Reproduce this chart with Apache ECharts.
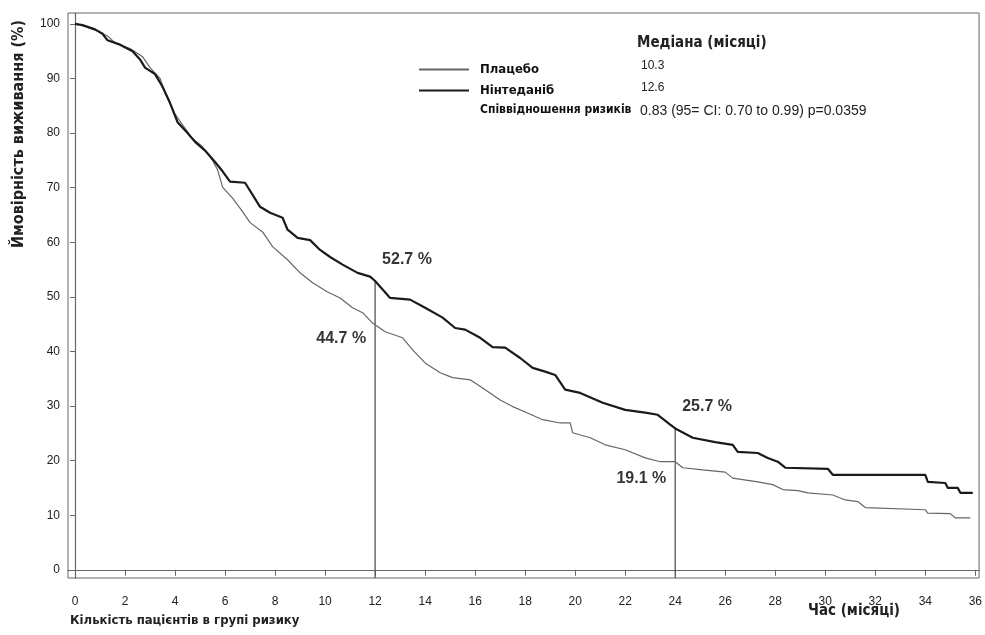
<!DOCTYPE html>
<html>
<head>
<meta charset="utf-8">
<script src="https://cdn.jsdelivr.net/npm/echarts@6/dist/echarts.min.js"></script>
<style>html,body{margin:0;padding:0;background:#fff}#c{width:985px;height:635px}</style>
</head>
<body>
<div id="c"></div>
<script>
// ---- data ----
const xTicks = [0,2,4,6,8,10,12,14,16,18,20,22,24,26,28,30,32,34,36];
const yTicks = [0,10,20,30,40,50,60,70,80,90,100];

const placebo = [
 [0,100],[0.4,99.5],[0.9,98.7],[1.3,97.8],[1.6,96.5],[2.2,95.5],[2.7,94.0],[3.0,92.0],[3.4,90.0],[3.6,87.5],
 [4.0,83.5],[4.3,81.5],[4.7,79.0],[5.1,77.5],[5.5,75.0],[5.7,73.3],[5.9,70.1],[6.3,68.1],[6.7,65.6],[7.0,63.6],
 [7.5,61.9],[7.9,59.2],[8.5,56.8],[9.0,54.4],[9.5,52.6],[10.1,50.9],[10.6,49.8],[11.1,48.0],[11.5,47.1],[11.9,45.2],
 [12.4,43.6],[13.1,42.5],[13.5,40.3],[14.0,37.9],[14.6,36.1],[15.1,35.2],[15.8,34.8],[16.3,33.3],[17.0,31.1],[17.5,29.9],
 [18.0,28.9],[18.7,27.5],[19.4,26.9],[19.8,26.9],[19.9,25.1],[20.6,24.2],[21.2,22.9],[22.0,22.0],[22.8,20.5],[23.4,19.8],
 [24.0,19.8],[24.3,18.7],[25.1,18.3],[26.0,17.9],[26.3,16.8],[27.3,16.1],[27.9,15.6],[28.3,14.7],[28.9,14.5],[29.3,14.1],
 [30.3,13.7],[30.8,12.8],[31.3,12.5],[31.6,11.4],[34.0,11.0],[34.1,10.4],[35.0,10.3],[35.2,9.5],[35.8,9.5]
];
const nintedanib = [
 [0,100],[0.3,99.8],[0.8,99.0],[1.1,98.2],[1.3,97.0],[1.8,96.2],[2.3,95.0],[2.6,93.5],[2.8,92.0],[3.2,90.8],
 [3.5,88.5],[3.8,85.5],[4.1,82.0],[4.5,80.0],[4.8,78.4],[5.2,76.8],[5.6,74.7],[5.9,73.0],[6.2,71.1],[6.8,70.9],
 [7.4,66.5],[7.8,65.4],[8.3,64.5],[8.5,62.3],[8.9,60.8],[9.4,60.4],[9.8,58.6],[10.2,57.3],[10.7,55.9],[11.3,54.4],
 [11.8,53.7],[12.0,52.9],[12.6,49.8],[13.4,49.5],[14.0,48.0],[14.7,46.2],[15.2,44.3],[15.6,44.0],[16.2,42.5],[16.7,40.8],
 [17.2,40.7],[17.8,38.8],[18.3,37.0],[18.8,36.3],[19.2,35.7],[19.6,33.0],[20.2,32.4],[21.1,30.6],[22.0,29.3],[22.8,28.8],
 [23.3,28.4],[23.8,26.6],[24.0,25.9],[24.7,24.2],[25.6,23.4],[26.3,22.9],[26.5,21.6],[27.3,21.4],[27.7,20.5],[28.1,19.8],
 [28.4,18.7],[30.1,18.5],[30.3,17.4],[34.0,17.4],[34.1,16.1],[34.8,15.9],[34.9,15.0],[35.3,15.0],[35.4,14.1],[35.9,14.1]
];
const refMonths = [12, 24];
const refNintedanib = [52.7, 25.7];
const refPlacebo = [44.7, 19.1];
const seriesNames = ['Плацебо', 'Нінтеданіб'];
const medians = ['10.3', '12.6'];
const hazardText = '0.83 (95= CI: 0.70 to 0.99) p=0.0359';

// ---- chart ----
const chart = echarts.init(document.getElementById('c'), null, {renderer: 'canvas'});
const narrow = "'Liberation Sans Narrow','DejaVu Sans Condensed','Roboto Condensed',sans-serif";
const axisMin = -1.5;

const refLineData = [];
refMonths.forEach((m, i) => {
  refLineData.push([m, axisMin], [m, refNintedanib[i] + 0.4], [null, null]);
});
const labelFont = {fontFamily: 'Liberation Sans, Arial, sans-serif', fontSize: 16, fontWeight: 'bold', color: '#000'};

chart.setOption({
  animation: false,
  backgroundColor: '#fff',
  grid: {left: 68, right: 5, top: 13, bottom: 57, show: true, borderColor: '#666', borderWidth: 1},
  legend: {
    data: seriesNames, orient: 'vertical', left: 413, top: 58, itemGap: 8,
    itemWidth: 50, itemHeight: 14,
    itemStyle: {opacity: 0},
    textStyle: {fontFamily: narrow, fontSize: 13, fontWeight: 'bold', color: '#111', padding: [0, 0, 0, 6]}
  },
  xAxis: {
    type: 'value', min: -0.28, max: 36.15,
    axisLine: {show: true, lineStyle: {color: '#666', width: 1.2}},
    axisTick: {show: true, length: 6, lineStyle: {color: '#666'}, customValues: xTicks},
    axisLabel: {margin: 18, fontFamily: 'Liberation Sans, Arial, sans-serif', fontSize: 12, color: '#222', customValues: xTicks},
    splitLine: {show: false}
  },
  yAxis: {
    type: 'value', min: axisMin, max: 102,
    axisLine: {show: true, lineStyle: {color: '#666', width: 1.2}},
    axisTick: {show: true, length: 5, lineStyle: {color: '#666'}, customValues: yTicks},
    axisLabel: {margin: 8, fontFamily: 'Liberation Sans, Arial, sans-serif', fontSize: 12, color: '#222', customValues: yTicks},
    splitLine: {show: false}
  },
  series: [
    {name: seriesNames[0], type: 'line', data: placebo, symbol: 'none',
     lineStyle: {color: '#666', width: 1.2}, itemStyle: {color: '#666'}, z: 3},
    {name: seriesNames[1], type: 'line', data: nintedanib, symbol: 'none',
     lineStyle: {color: '#1a1a1a', width: 2.2}, itemStyle: {color: '#1a1a1a'}, z: 4},
    {name: 'ref', type: 'line', data: refLineData, symbol: 'none', connectNulls: false,
     lineStyle: {color: '#555', width: 1.3}, z: 2, silent: true},
    {name: 'labN', type: 'scatter', symbolSize: 0, silent: true,
     data: refMonths.map((m, i) => [m, refNintedanib[i]]),
     label: {show: true, position: 'right', distance: 0, offset: [7, -23], ...labelFont,
             formatter: p => p.value[1].toFixed(1) + ' %'}},
    {name: 'labP', type: 'scatter', symbolSize: 0, silent: true,
     data: refMonths.map((m, i) => [m, refPlacebo[i]]),
     label: {show: true, position: 'left', distance: 0, offset: [-9, 13], ...labelFont,
             formatter: p => p.value[1].toFixed(1) + ' %'}}
  ],
  graphic: [
    {type: 'text', left: 11, top: 20, rotation: Math.PI / 2, originX: 0, originY: 0,
     style: {text: 'Ймовірність виживання (%)', font: 'bold 16px ' + narrow, fill: '#222'}},
    {type: 'text', left: 70, top: 614,
     style: {text: 'Кількість пацієнтів в групі ризику', font: 'bold 13px ' + narrow, fill: '#222'}},
    {type: 'text', left: 808, top: 604,
     style: {text: 'Час (місяці)', font: 'bold 15px ' + narrow, fill: '#222'}},
    {type: 'text', left: 637, top: 36,
     style: {text: 'Медіана (місяці)', font: 'bold 15px ' + narrow, fill: '#222'}},
    {type: 'text', left: 641, top: 60,
     style: {text: medians[0], font: '12px Liberation Sans, Arial, sans-serif', fill: '#222'}},
    {type: 'text', left: 641, top: 82,
     style: {text: medians[1], font: '12px Liberation Sans, Arial, sans-serif', fill: '#222'}},
    {type: 'text', left: 480, top: 104,
     style: {text: 'Співвідношення ризиків', font: 'bold 12px ' + narrow, fill: '#111'}},
    {type: 'text', left: 640, top: 104,
     style: {text: hazardText, font: '14px Liberation Sans, Arial, sans-serif', fill: '#222'}}
  ]
});
</script>
</body>
</html>
